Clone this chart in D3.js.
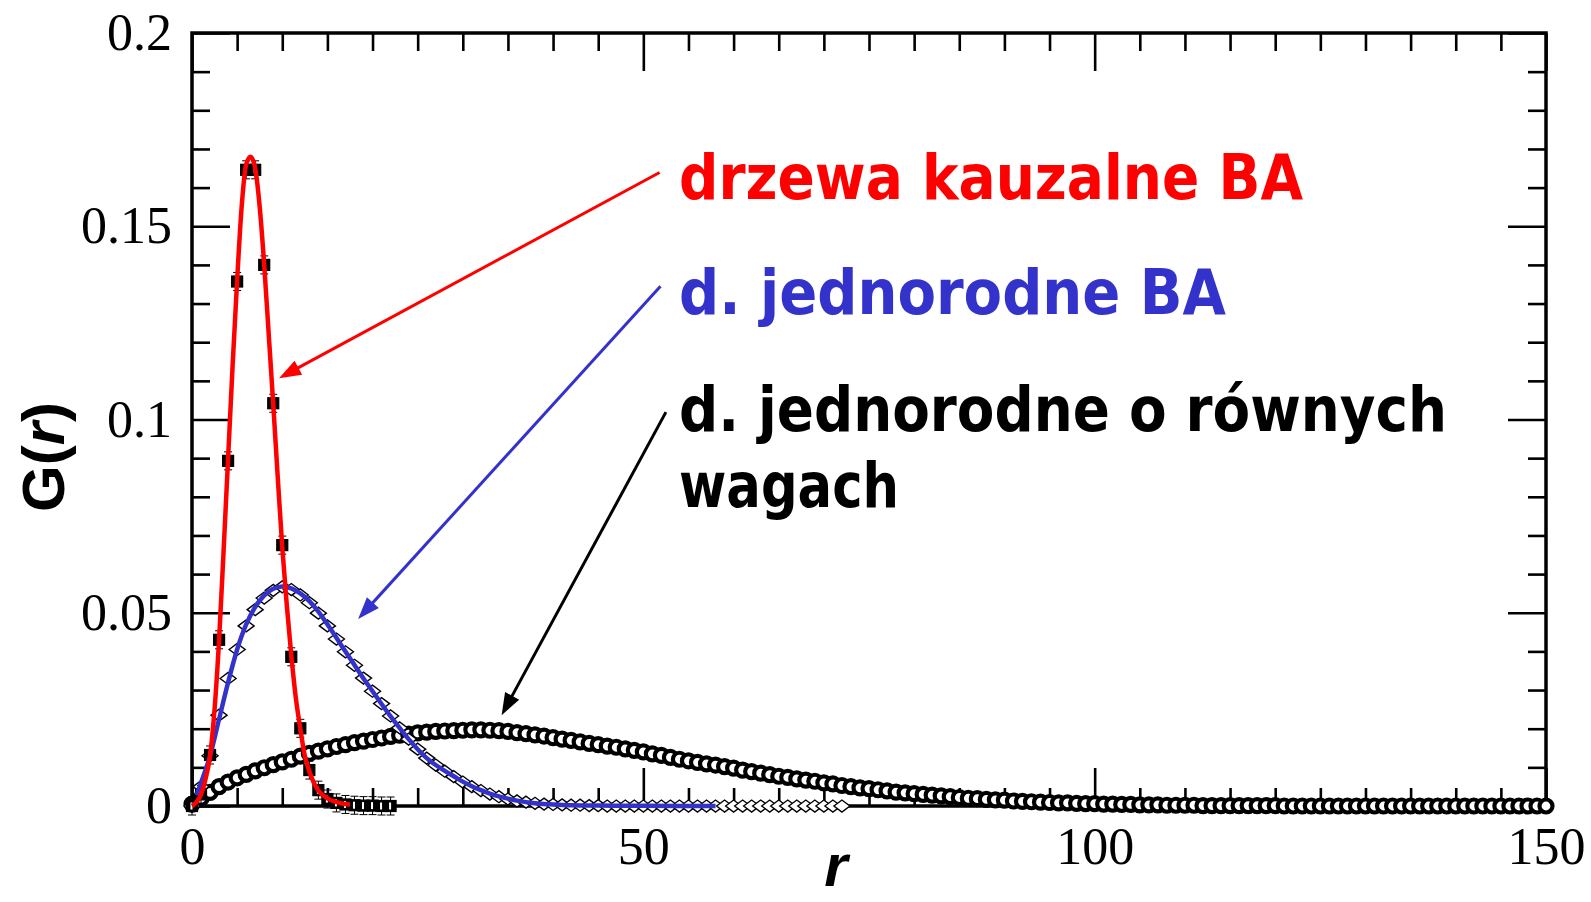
<!DOCTYPE html>
<html><head><meta charset="utf-8">
<script src="https://cdn.jsdelivr.net/npm/d3@7"></script>
<style>body{margin:0;background:#fff}svg{display:block}</style>
</head><body>
<svg id="chart" width="1591" height="902"></svg>
<script>
// ---- data ----
const xTicksMajor = [0, 50, 100, 150];
const xTickLabels = ["0", "50", "100", "150"];
const yTicksMajor = [0, 0.05, 0.1, 0.15, 0.2];
const yTickLabels = ["0", "0.05", "0.1", "0.15", "0.2"];

// causal BA trees: squares (r, G)
const redR = [0,1,2,3,4,5,6,7,8,9,10,11,12,13,14,15,16,17,18,19,20,21,22];
const redG = [0,0.003,0.0132,0.043,0.0893,0.1357,0.1646,0.1646,0.140,0.1042,0.0675,0.0386,0.0201,0.0093,0.0041,0.0018,0.0008,0.0004,0.0002,0.0001,0.0001,0,0];
// red fit curve
const redFitR = [0,0.5,1,1.5,2,2.5,3,3.5,4,4.5,5,5.5,6,6.5,7,7.5,8,8.5,9,9.5,10,10.5,11,11.5,12,12.5,13,13.5,14,15,16,17,17.5];
const redFitG = [0,0.001,0.003,0.007,0.013,0.025,0.043,0.066,0.090,0.114,0.136,0.155,0.166,0.168,0.165,0.155,0.140,0.122,0.104,0.085,0.067,0.052,0.039,0.028,0.020,0.013,0.009,0.006,0.004,0.002,0.001,0.0005,0.0003];

// homogeneous BA trees: diamonds
const blueR = d3.range(0, 73);
const blueG = [0,0.005,0.013,0.0235,0.033,0.0405,0.0466,0.0508,0.0538,0.0558,0.0567,0.0560,0.0546,0.0526,0.0499,0.0466,0.0432,0.0399,0.0364,0.0331,0.0297,0.0265,0.0233,0.0202,0.0173,0.0147,0.0124,0.0106,0.0090,0.0076,0.0062,0.0050,0.0040,0.0031,0.0024,0.0018,0.0013,0.0010,0.0007,0.0005,0.0004,0.0003,0.0002,0.0002,0.0001,0.0001,0,0,0,0,0,0,0,0,0,0,0,0,0,0,0,0,0,0,0,0,0,0,0,0,0,0,0];
// blue fit curve
const blueFitR = [0.5,1,2,3,4,5,6,7,8,9,10,11,12,13,14,15,16,17,18,19,20,21,22,23,24,25,26,27,28,29,30,31,32,33,34,35,36,37,38,39,40,42,45,50,58];
const blueFitG = [0.0028,0.006,0.013,0.0225,0.032,0.0405,0.047,0.0515,0.0545,0.0562,0.0568,0.0563,0.055,0.053,0.0503,0.047,0.0435,0.040,0.0365,0.033,0.0297,0.0264,0.0232,0.0202,0.0173,0.0147,0.0124,0.0106,0.0091,0.0077,0.0063,0.0051,0.0041,0.0032,0.0025,0.0019,0.0014,0.0010,0.0007,0.0005,0.0004,0.0002,0.0001,0.00005,0];

// homogeneous trees with equal weights: circles
const blackR = d3.range(0, 151);
const blackG = [0.0005,0.0020,0.0035,0.0050,0.0062,0.0073,0.0082,0.0091,0.0099,0.0107,
0.0114,0.0121,0.0129,0.0136,0.0142,0.0148,0.0154,0.0159,0.0164,0.0168,
0.0172,0.0176,0.0180,0.0183,0.0186,0.0189,0.0191,0.0193,0.0194,0.0195,
0.0196,0.0197,0.0197,0.0196,0.0195,0.0193,0.0190,0.0187,0.0184,0.0181,
0.0177,0.0173,0.0170,0.0166,0.0162,0.0159,0.0155,0.0152,0.0148,0.0144,
0.0140,0.0135,0.0131,0.0126,0.0121,0.0117,0.0113,0.0109,0.0106,0.0102,
0.0098,0.0093,0.0089,0.0085,0.0081,0.0077,0.0074,0.0070,0.0067,0.0064,
0.0060,0.0057,0.0053,0.0050,0.0047,0.0045,0.0042,0.0039,0.0036,0.0034,
0.0032,0.0030,0.0028,0.0026,0.0024,0.0022,0.0020,0.0019,0.0017,0.0016,
0.0015,0.0013,0.0012,0.0011,0.0010,0.0009,0.0008,0.0008,0.0007,0.0006,
0.0006,0.0005,0.0005,0.0004,0.0004,0.0003,0.0003,0.0003,0.0002,0.0002,
0.0002,0.0002,0.0001,0.0001,0.0001,0.0001,0.0001,0.0001,0.0001,0.0001,
0.0001,0,0,0,0,0,0,0,0,0,
0,0,0,0,0,0,0,0,0,0,
0,0,0,0,0,0,0,0,0,0,0];

// annotation texts and arrows (arrow ends in data units)
const labels = ["drzewa kauzalne BA", "d. jednorodne BA", "d. jednorodne o równych", "wagach"];
const labelColors = ["#ff0000", "#3333cc", "#000000", "#000000"];
const arrowFromR = [51.8, 51.9, 52.5];
const arrowFromG = [0.1639, 0.1345, 0.1019];
const arrowToR = [9.64, 18.4, 34.3];
const arrowToG = [0.1107, 0.0484, 0.0235];
const arrowColors = ["#ff0000", "#3333cc", "#000000"];

// ---- drawing ----
const svg = d3.select("#chart");
const L = 192, R = 1546, T = 33, B = 806;
const x = d3.scaleLinear().domain([0, 150]).range([L, R]);
const y = d3.scaleLinear().domain([0, 0.2]).range([B, T]);

const tickFont = "'Liberation Serif','Times New Roman',serif";

function styleAxis(g) {
  g.select(".domain").remove();
  g.selectAll(".tick line").attr("stroke", "#000").attr("stroke-width", 2.6);
  g.selectAll(".tick text").attr("font-family", tickFont).attr("font-size", 52).attr("fill", "#000");
}
const xMinor = d3.range(0, 151, 5).filter(v => v % 50 !== 0);
const yMinor = d3.range(0, 21).map(v => v / 100).filter(v => Math.round(v * 100) % 5 !== 0);

// bottom
svg.append("g").attr("transform", `translate(0,${B})`)
  .call(d3.axisBottom(x).tickValues(xMinor).tickSizeInner(-18).tickSizeOuter(0).tickFormat(""))
  .call(styleAxis);
svg.append("g").attr("transform", `translate(0,${B})`)
  .call(d3.axisBottom(x).tickValues(xTicksMajor).tickSizeInner(-38).tickSizeOuter(0).tickPadding(21)
    .tickFormat((d, i) => xTickLabels[i]))
  .call(styleAxis);
// top
svg.append("g").attr("transform", `translate(0,${T})`)
  .call(d3.axisTop(x).tickValues(xMinor).tickSizeInner(-18).tickSizeOuter(0).tickFormat(""))
  .call(styleAxis);
svg.append("g").attr("transform", `translate(0,${T})`)
  .call(d3.axisTop(x).tickValues(xTicksMajor).tickSizeInner(-38).tickSizeOuter(0).tickFormat(""))
  .call(styleAxis);
// left
svg.append("g").attr("transform", `translate(${L},0)`)
  .call(d3.axisLeft(y).tickValues(yMinor).tickSizeInner(-18).tickSizeOuter(0).tickFormat(""))
  .call(styleAxis);
svg.append("g").attr("transform", `translate(${L},0)`)
  .call(d3.axisLeft(y).tickValues(yTicksMajor).tickSizeInner(-38).tickSizeOuter(0).tickPadding(20)
    .tickFormat((d, i) => yTickLabels[i]))
  .call(styleAxis);
// right
svg.append("g").attr("transform", `translate(${R},0)`)
  .call(d3.axisRight(y).tickValues(yMinor).tickSizeInner(-18).tickSizeOuter(0).tickFormat(""))
  .call(styleAxis);
svg.append("g").attr("transform", `translate(${R},0)`)
  .call(d3.axisRight(y).tickValues(yTicksMajor).tickSizeInner(-38).tickSizeOuter(0).tickFormat(""))
  .call(styleAxis);

// frame
svg.append("rect").attr("x", L).attr("y", T).attr("width", R - L).attr("height", B - T)
  .attr("fill", "none").attr("stroke", "#000").attr("stroke-width", 3.5);

// black circles
svg.append("g").selectAll("circle").data(blackR).join("circle")
  .attr("cx", (d) => x(d)).attr("cy", (d, i) => y(blackG[i])).attr("r", 6.5)
  .attr("fill", "#fff").attr("stroke", "#000").attr("stroke-width", 4.2);

// blue diamonds
svg.append("g").selectAll("path").data(blueR).join("path")
  .attr("d", (d, i) => {
    const cx = x(d), cy = y(blueG[i]);
    return `M${cx - 8},${cy}L${cx},${cy - 6}L${cx + 8},${cy}L${cx},${cy + 6}Z`;
  })
  .attr("fill", "#fff").attr("stroke", "#000").attr("stroke-width", 1.4);

// red-series squares with small error bars
const sq = svg.append("g").selectAll("g").data(redR).join("g")
  .attr("transform", (d, i) => `translate(${x(d)},${y(redG[i])})`);
sq.append("path").attr("d", "M-4,-9H4M0,-9V9M-4,9H4").attr("stroke", "#000").attr("stroke-width", 1);
sq.append("rect").attr("x", -5.5).attr("y", -5.5).attr("width", 11).attr("height", 11)
  .attr("fill", "#000").attr("stroke", "#000").attr("stroke-width", 1.2);
sq.append("rect").attr("x", -1.5).attr("y", -3.5).attr("width", 2).attr("height", 7).attr("fill", "#fff");

// fit curves
const line = d3.line().curve(d3.curveMonotoneX);
svg.append("path")
  .attr("d", line(blueFitR.map((r, i) => [x(r), y(blueFitG[i])])))
  .attr("fill", "none").attr("stroke", "#3333cc").attr("stroke-width", 4.5);
svg.append("path")
  .attr("d", line(redFitR.map((r, i) => [x(r), y(redFitG[i])])))
  .attr("fill", "none").attr("stroke", "#ff0000").attr("stroke-width", 4.5);

// arrows
arrowFromR.forEach((r0, i) => {
  const x0 = x(r0), y0 = y(arrowFromG[i]), x1 = x(arrowToR[i]), y1 = y(arrowToG[i]);
  const dx = x1 - x0, dy = y1 - y0, len = Math.hypot(dx, dy);
  const ux = dx / len, uy = dy / len, hl = 22, hw = 8;
  const bx = x1 - ux * hl, by = y1 - uy * hl;
  svg.append("line").attr("x1", x0).attr("y1", y0).attr("x2", bx + ux * 2).attr("y2", by + uy * 2)
    .attr("stroke", arrowColors[i]).attr("stroke-width", 3);
  svg.append("path")
    .attr("d", `M${x1},${y1}L${bx - uy * hw},${by + ux * hw}L${bx + uy * hw},${by - ux * hw}Z`)
    .attr("fill", arrowColors[i]);
});

// annotation texts
const labelFont = "'Comic Sans MS','DejaVu Sans','Noto Sans',sans-serif";
const labelX = [679, 679, 679, 679];
const labelY = [199, 314, 431, 507];
const labelW = [624, 547, 768, 220];
labels.forEach((t, i) => {
  svg.append("text").attr("x", labelX[i]).attr("y", labelY[i])
    .attr("font-family", labelFont).attr("font-weight", "bold").attr("font-size", 62)
    .attr("fill", labelColors[i]).attr("textLength", labelW[i]).attr("lengthAdjust", "spacingAndGlyphs")
    .text(t);
});

// axis titles
const titleFont = "'Liberation Sans',Arial,sans-serif";
const yt = svg.append("text").attr("transform", "translate(64,457) rotate(-90)")
  .attr("text-anchor", "middle").attr("font-family", titleFont).attr("font-weight", "bold")
  .attr("font-size", 60).attr("fill", "#000");
yt.append("tspan").text("G(");
yt.append("tspan").attr("font-style", "italic").text("r");
yt.append("tspan").text(")");
svg.append("text").attr("x", 836).attr("y", 886).attr("text-anchor", "middle")
  .attr("font-family", titleFont).attr("font-weight", "bold").attr("font-style", "italic")
  .attr("font-size", 60).attr("fill", "#000").text("r");
</script>
</body></html>
